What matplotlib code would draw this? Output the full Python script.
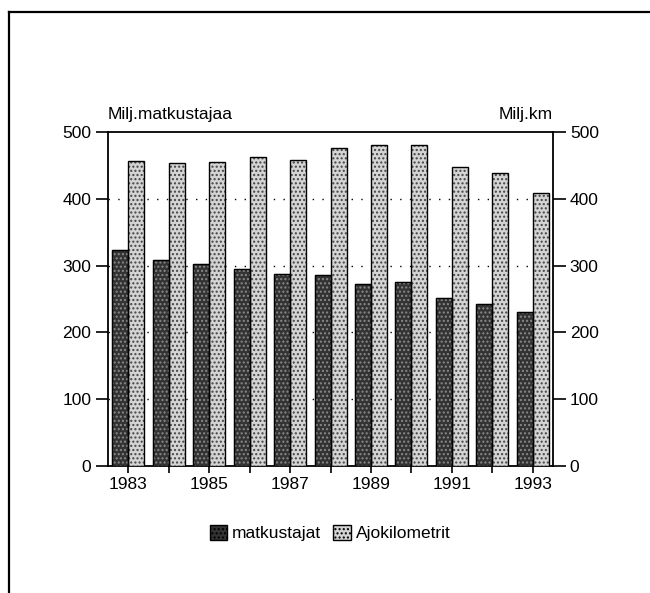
import numpy as np
import matplotlib
matplotlib.use("Agg")
import matplotlib.pyplot as plt
from matplotlib.lines import Line2D
from matplotlib.patches import Patch

# ── DATA ────────────────────────────────────────────────────
years = [1983, 1984, 1985, 1986, 1987, 1988, 1989, 1990, 1991, 1992, 1993]
matkustajat = [324, 308, 303, 295, 288, 286, 273, 275, 252, 242, 231]     # Milj. matkustajaa
ajokilometrit = [456, 454, 455, 463, 458, 476, 480, 480, 447, 438, 408]   # Milj. km
year_labels = ["1983", "", "1985", "", "1987", "", "1989", "", "1991", "", "1993"]
y_ticks = [0, 100, 200, 300, 400, 500]

plt.rcParams["font.family"] = ["Liberation Sans", "DejaVu Sans"]
plt.rcParams["hatch.linewidth"] = 1.0

FS = 12.5
DARK = "#333333"
LIGHT = "#d4d4d4"

fig = plt.figure(figsize=(6.5, 5.93), dpi=100)
ax = fig.add_axes([0.166, 0.2142, 0.685, 0.5632])

x = np.arange(len(years))
w = 0.395

# dark bars: dark fill with light stipple
ax.bar(x - w / 2, matkustajat, w, color=DARK, edgecolor="black", lw=0.8, zorder=3)
ax.bar(x - w / 2, matkustajat, w, color="none", edgecolor="#8a8a8a", hatch="....", lw=0, zorder=4)
ax.bar(x - w / 2, matkustajat, w, color="none", edgecolor="black", lw=1.0, zorder=5)

# light bars: light fill with dark stipple
ax.bar(x + w / 2, ajokilometrit, w, color=LIGHT, edgecolor="#444444", hatch="....", lw=0, zorder=3)
ax.bar(x + w / 2, ajokilometrit, w, color="none", edgecolor="black", lw=1.0, zorder=5)

ax.set_xlim(-0.5, len(years) - 0.5)
ax.set_ylim(0, 500)
ax.set_xticks(x)
ax.set_xticklabels(year_labels)
ax.set_yticks(y_ticks)
ax.tick_params(axis="y", length=9, width=1.2, labelsize=FS, direction="out",
               right=True, labelright=True, pad=3)
ax.tick_params(axis="x", length=5, width=1.2, labelsize=FS, direction="out", pad=3)

for gy in y_ticks[1:-1]:
    ax.axhline(gy, color="black", lw=1.0, ls=(0, (1, 6)), zorder=1)

for s in ax.spines.values():
    s.set_linewidth(1.3)

ax.text(0, 1.03, "Milj.matkustajaa", transform=ax.transAxes, ha="left", va="bottom", fontsize=FS)
ax.text(1, 1.03, "Milj.km", transform=ax.transAxes, ha="right", va="bottom", fontsize=FS)

handles = [Patch(facecolor=DARK, edgecolor="black", hatch="...."),
           Patch(facecolor=LIGHT, edgecolor="black", hatch="....")]
fig.legend(handles, ["matkustajat", "Ajokilometrit"], loc="center",
           bbox_to_anchor=(0.508, 0.101), ncol=2, frameon=False, fontsize=FS,
           handlelength=1.0, handleheight=1.0, handletextpad=0.3, columnspacing=0.7)

# scanned page border (left and top only)
fig.add_artist(Line2D([0.014, 0.014], [0.0, 0.979], color="black", lw=1.6, transform=fig.transFigure))
fig.add_artist(Line2D([0.014, 1.0], [0.979, 0.979], color="black", lw=1.6, transform=fig.transFigure))

fig.savefig("out.png", dpi=100)
